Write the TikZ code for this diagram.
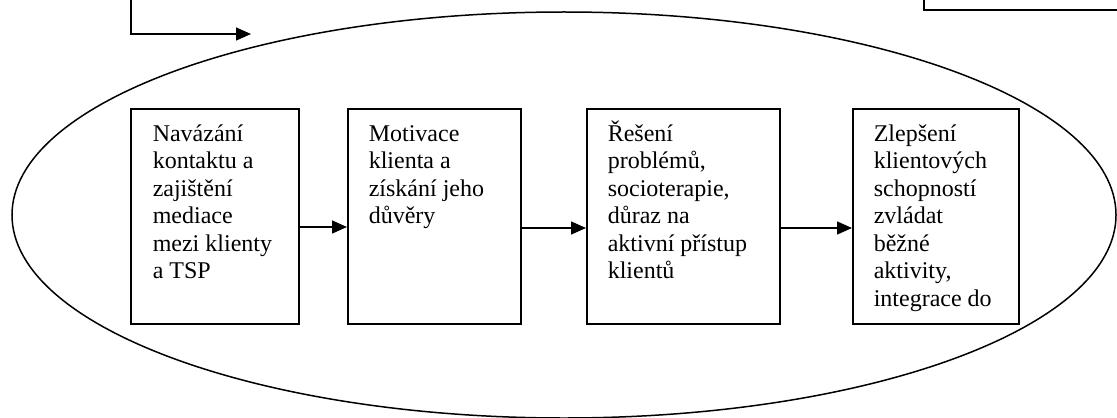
\documentclass[tikz,border=0pt]{standalone}
\usepackage{fontspec}
\setmainfont{Liberation Serif}
\usetikzlibrary{arrows.meta,calc}
\newcommand{\boxlines}[1]{\begin{tabular}[t]{@{}l@{}}#1\end{tabular}}
\begin{document}
\begin{tikzpicture}[x=0.5pt,y=-0.5pt,
  line width=0.75pt,
  box/.style={draw,line width=0.75pt,rectangle,inner sep=0pt,anchor=north west},
  txt/.style={anchor=base west,inner sep=0pt,font=\fontsize{12}{13.75}\selectfont},
  arr/.style={-{Triangle[length=7.5pt,width=6.5pt]},line width=0.75pt}]
\useasboundingbox (0,0) rectangle (1117,417);
% ellipse
\draw (564,215) ellipse [x radius=552, y radius=203];
% boxes
\node[box,minimum width=84pt,minimum height=107.5pt] (b1) at (130,108) {};
\node[box,minimum width=86.5pt,minimum height=107.5pt] (b2) at (347,108) {};
\node[box,minimum width=96.5pt,minimum height=107.5pt] (b3) at (586,108) {};
\node[box,minimum width=83pt,minimum height=107.5pt] (b4) at (852,108) {};
% texts
\node[txt] (t1) at ($(b1.north west)+(22,33)$) {\boxlines{Navázání\\kontaktu a\\zajištění\\mediace\\mezi klienty\\a TSP}};
\node[txt] (t2) at ($(b2.north west)+(21,33)$) {\boxlines{Motivace\\klienta a\\získání jeho\\důvěry}};
\node[txt] (t3) at ($(b3.north west)+(21,33)$) {\boxlines{Řešení\\problémů,\\socioterapie,\\důraz na\\aktivní přístup\\klientů}};
\node[txt] (t4) at ($(b4.north west)+(21,33)$) {\boxlines{Zlepšení\\klientových\\schopností\\zvládat\\běžné\\aktivity,\\integrace do}};
% arrows between boxes
\draw[arr] (b1.east |- 0,227) -- (b2.west |- 0,227);
\draw[arr] (b2.east |- 0,228) -- (b3.west |- 0,228);
\draw[arr] (b3.east |- 0,228) -- (b4.west |- 0,228);
% top-left connector
\coordinate (s) at (131,-10);
\coordinate (e) at (251,34);
\draw[arr] (s) |- (e);
% top-right box (partially visible)
\node[box,minimum width=120pt,minimum height=40pt,anchor=south west] (tr) at (923,11) {};
\end{tikzpicture}
\end{document}
